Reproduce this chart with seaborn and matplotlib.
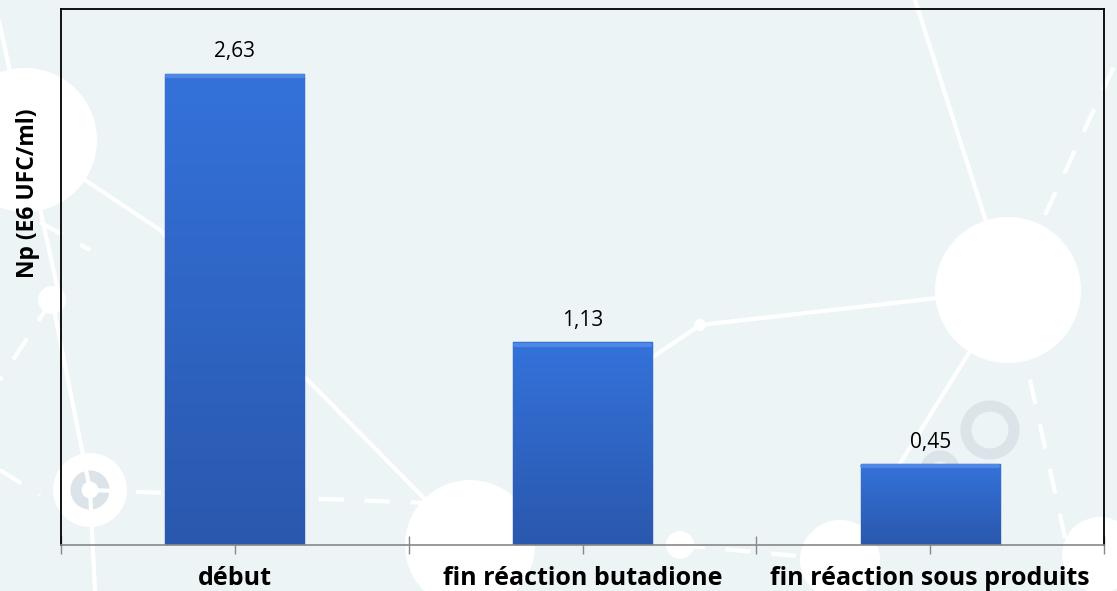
import numpy as np
import pandas as pd
import matplotlib
matplotlib.use("Agg")
import matplotlib.pyplot as plt
import seaborn as sns
from matplotlib.patches import Circle
from matplotlib.colors import LinearSegmentedColormap

# ---- data ----
categories = ["début", "fin réaction butadione", "fin réaction sous produits"]
values = [2.63, 1.13, 0.45]
value_labels = ["2,63", "1,13", "0,45"]
y_label = "Np (E6 UFC/ml)"

df = pd.DataFrame({"cat": categories, "val": values})

sns.set_theme(style="white")
plt.rcParams["font.family"] = ["Open Sans", "DejaVu Sans"]

W, H = 1117, 591
fig = plt.figure(figsize=(W / 100, H / 100), dpi=100)
bg = "#EDF4F6"
fig.patch.set_facecolor(bg)

# ---- decorative background (figure pixel coords) ----
bgax = fig.add_axes([0, 0, 1, 1], zorder=-5)
bgax.set_xlim(0, W)
bgax.set_ylim(H, 0)
bgax.axis("off")
bgax.set_facecolor(bg)
lw = 3
wc = "white"
lines = [((25, 140), (-10, -20)), ((25, 140), (160, 230)), ((160, 230), (470, 545)),
         ((52, 300), (90, 490)), ((90, 490), (95, 591)), ((700, 325), (1008, 290)),
         ((700, 325), (560, 420)), ((1008, 290), (915, 0)), ((840, 560), (1008, 290)),
         ((25, 140), (60, 300))]
for (x0, y0), (x1, y1) in lines:
    bgax.plot([x0, x1], [y0, y1], color=wc, lw=lw, solid_capstyle="round")
dashed = [((0, 200), (90, 250)), ((52, 300), (0, 380)), ((90, 490), (480, 505)),
          ((680, 545), (840, 560)), ((1010, 290), (1070, 560)), ((1045, 215), (1117, 60)),
          ((0, 470), (40, 495))]
for (x0, y0), (x1, y1) in dashed:
    bgax.plot([x0, x1], [y0, y1], color=wc, lw=lw, ls=(0, (6, 5)))
for (cx, cy, r) in [(25, 140, 72), (1008, 290, 73), (470, 545, 65), (680, 545, 14),
                    (840, 560, 40), (1100, 555, 38), (90, 490, 37), (52, 300, 14),
                    (700, 325, 6)]:
    bgax.add_patch(Circle((cx, cy), r, color=wc, lw=0))
for (cx, cy, r) in [(90, 490, 14), (990, 430, 24), (940, 470, 14)]:
    bgax.add_patch(Circle((cx, cy), r, fill=False, ec="#DCE4EA", lw=8))

# ---- main chart ----
ax = fig.add_axes([61 / W, 1 - 545 / H, (1104 - 61) / W, (545 - 9) / H])
ax.set_facecolor("none")
sns.barplot(data=df, x="cat", y="val", ax=ax, color="#2F66CC", width=0.40,
            edgecolor="#22509F", linewidth=1.0, saturation=1)

# gradient fill clipped to each bar
cmap = LinearSegmentedColormap.from_list("g", ["#2A58AE", "#3472DA"])
grad = np.linspace(0, 1, 256).reshape(-1, 1)
for p in list(ax.patches):
    x0, y0 = p.get_x(), p.get_y()
    w, h = p.get_width(), p.get_height()
    im = ax.imshow(grad, cmap=cmap, aspect="auto", origin="lower",
                   extent=[x0, x0 + w, y0, y0 + h], zorder=p.get_zorder() + 0.1)
    im.set_clip_path(p)
    ax.plot([x0 + 0.005, x0 + w - 0.005], [y0 + h - 0.012, y0 + h - 0.012],
            color="#5C92EA", lw=3, alpha=0.7, zorder=p.get_zorder() + 0.2)

ax.set_xlim(-0.5, 2.5)
ax.set_ylim(0, 2.99)

for i, (v, lab) in enumerate(zip(values, value_labels)):
    ax.annotate(lab, (i, v), xytext=(0, 8), textcoords="offset points",
                ha="center", va="bottom", fontsize=15, color="black")

ax.set_xlabel("")
ax.set_ylabel(y_label, fontsize=16.5, fontweight="bold", color="black")
ax.yaxis.set_label_coords(-0.020, 0.656)
ax.set_yticks([])
ax.set_xticks(range(len(categories)))
ax.set_xticklabels(categories, fontsize=18, fontweight="bold", color="black")
ax.set_xticks([-0.5, 0.5, 1.5, 2.5], minor=True)
ax.tick_params(axis="x", which="both", direction="inout", length=13, width=1,
               color="#888888", bottom=True)
ax.tick_params(axis="x", which="major", pad=8.5)

for s in ["left", "top", "right"]:
    ax.spines[s].set_color("black")
    ax.spines[s].set_linewidth(1.3)
    ax.spines[s].set_visible(True)
ax.spines["bottom"].set_color("#888888")
ax.spines["bottom"].set_linewidth(1.2)

fig.savefig("out.png", dpi=100, facecolor=fig.get_facecolor())
